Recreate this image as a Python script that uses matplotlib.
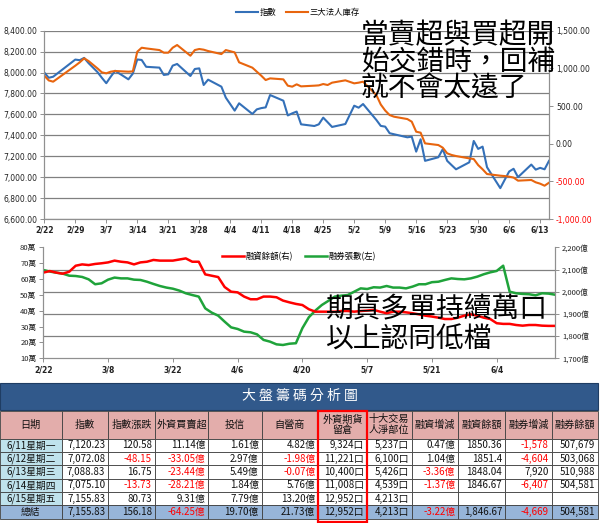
import numpy as np
import pandas as pd
import matplotlib
matplotlib.use('Agg')
import matplotlib.pyplot as plt
from matplotlib.patches import Rectangle

plt.rcParams['font.family'] = ['DejaVu Sans', 'Noto Sans CJK TC']
CJK = ['Noto Sans CJK TC', 'DejaVu Sans']

# trading days (TWSE 2012): weekdays minus holidays, plus the 3/3 make-up Saturday
holidays = ['2012-02-27', '2012-02-28', '2012-04-04', '2012-05-01']
days = pd.bdate_range('2012-02-22', '2012-06-15')
days = days.drop(pd.to_datetime(holidays)).union(pd.to_datetime(['2012-03-03']))

# --- top chart: 指數 (left) / 三大法人庫存 (right)
index_vals = [8000, 7950, 7960, 8124, 8118, 8140, 8090, 8005, 7950, 7898,
              7960, 8017, 7935, 7990, 8125, 8120, 8055, 8047, 7977, 7983,
              8066, 8082, 7967, 8034, 8040, 7881, 7932, 7865, 7760, 7636,
              7706, 7604, 7648, 7660, 7667, 7785, 7731, 7590, 7610, 7627,
              7505, 7489, 7505, 7569, 7525, 7480, 7508, 7683, 7664, 7699,
              7547, 7490, 7483, 7420, 7410, 7381, 7387, 7244, 7362, 7156,
              7190, 7267, 7156, 7115, 7075, 7142, 7346, 7270, 7292, 7095,
              6895, 6975, 7054, 7080, 7000, 7120.23, 7072.08, 7088.83, 7075.10, 7155.83]
inst_vals = [903, 840, 823, 1035, 1080, 1133, 1097, 1000, 947, 934,
             956, 965, 956, 960, 1221, 1274, 1265, 1243, 1208, 1208,
             1274, 1310, 1168, 1243, 1257, 1248, 1230, 1190, 1243, 1212,
             1080, 1009, 956, 903, 845, 867, 854, 770, 757, 788,
             761, 770, 774, 792, 779, 810, 841, 801, 810, 823,
             646, 520, 440, 380, 358, 327, 292, 159, 146, 4,
             -18, -53, -128, -150, -164, -195, -204, -284, -340, -403,
             -425, -430, -438, -450, -491, -482, -513, -531, -558, -518]

# --- bottom chart: 融資餘額 (right, 億) / 融券張數 (left, 萬)
margin_vals = [2086, 2093, 2086, 2081, 2090, 2117, 2123, 2120, 2125, 2128,
               2132, 2140, 2135, 2132, 2123, 2132, 2135, 2143, 2140, 2140,
               2140, 2145, 2150, 2135, 2135, 2078, 2072, 2066, 2021, 2000,
               1997, 1978, 1966, 1966, 1978, 1978, 1975, 1960, 1952, 1945,
               1940, 1921, 1910, 1910, 1910, 1910, 1913, 1913, 1910, 1913,
               1915, 1918, 1910, 1903, 1910, 1910, 1907, 1903, 1898, 1892,
               1888, 1883, 1877, 1877, 1883, 1892, 1898, 1892, 1883, 1877,
               1858, 1855, 1855, 1850, 1847, 1850, 1850, 1847, 1846, 1846]
short_vals = [65.7, 64.7, 64.0, 63.4, 62.1, 61.9, 61.3, 59.8, 56.7, 57.3,
              59.6, 60.9, 60.4, 60.4, 59.6, 59.4, 58.3, 56.9, 55.6, 54.6,
              53.9, 52.7, 51.0, 49.9, 48.9, 41.5, 38.8, 36.9, 33.1, 29.5,
              28.5, 26.8, 26.4, 25.1, 21.6, 20.5, 18.8, 18.4, 19.2, 19.5,
              29.0, 35.9, 40.1, 43.6, 46.2, 48.9, 49.5, 49.9, 52.0, 54.1,
              53.7, 54.8, 54.6, 55.6, 54.6, 54.6, 54.1, 55.2, 56.7, 56.7,
              58.0, 58.3, 59.4, 60.4, 60.0, 59.8, 60.4, 61.5, 63.0, 64.2,
              65.1, 68.4, 52.0, 51.0, 50.6, 50.4, 49.7, 51.0, 50.8, 50.1]

# --- table
col_names = ['日期', '指數', '指數漲跌', '外資買賣超', '投信', '自營商', '外資期貨\n留倉',
             '十大交易\n人淨部位', '融資增減', '融資餘額', '融券增減', '融券餘額']
table_rows = [
    ['6/11星期一', '7,120.23', '120.58', '11.14億', '1.61億', '4.82億', '9,324口', '5,237口', '0.47億', '1850.36', '-1,578', '507,679'],
    ['6/12星期二', '7,072.08', '-48.15', '-33.05億', '2.97億', '-1.98億', '11,221口', '6,100口', '1.04億', '1851.4', '-4,604', '503,068'],
    ['6/13星期三', '7,088.83', '16.75', '-23.44億', '5.49億', '-0.07億', '10,400口', '5,426口', '-3.36億', '1848.04', '7,920', '510,988'],
    ['6/14星期四', '7,075.10', '-13.73', '-28.21億', '1.84億', '5.76億', '11,008口', '4,539口', '-1.37億', '1846.67', '-6,407', '504,581'],
    ['6/15星期五', '7,155.83', '80.73', '9.31億', '7.79億', '13.20億', '12,952口', '4,213口', '', '', '', ''],
]
total_row = ['總結', '7,155.83', '156.18', '-64.25億', '19.70億', '21.73億', '12,952口', '4,213口', '-3.22億', '1,846.67', '-4,669', '504,581']

W, H = 600, 523
fig = plt.figure(figsize=(6, 5.23), dpi=100)
fig.patch.set_facecolor('white')

def box(l, t, r, b):
    return [l / W, 1 - b / H, (r - l) / W, (b - t) / H]

GRID = '#808080'
TICK_FS = 5.5

def style(ax):
    for s in ax.spines.values():
        s.set_color('#909090')
        s.set_linewidth(0.8)
    ax.tick_params(length=3, width=0.7, color='#909090', labelsize=TICK_FS,
                   labelcolor='#222222', pad=2)

# ================= top chart
ax1 = fig.add_axes(box(44.3, 30.7, 549, 219))
style(ax1)
ax1.spines['top'].set_visible(False)
l1, = ax1.plot(days, index_vals, color='#3470b8', lw=1.5, label='指數')
ax1.set_ylim(6600, 8400)
yt = np.arange(6600, 8401, 200)
ax1.set_yticks(yt)
ax1.set_yticklabels([f'{v:,.2f}' for v in yt])
ax1.grid(axis='y', color=GRID, lw=0.9)
ax1.set_axisbelow(True)
ax1.set_xlim(days[0], days[-1])
xt = pd.date_range('2012-02-22', '2012-06-13', freq='7D')
ax1.set_xticks(xt)
ax1.set_xticklabels([f'{d.month}/{d.day}' for d in xt], fontweight='bold')

ax1r = ax1.twinx()
style(ax1r)
ax1r.spines['top'].set_visible(False)
l2, = ax1r.plot(days, inst_vals, color='#e8650e', lw=1.5, label='三大法人庫存')
ax1r.set_ylim(-1000, 1500)
rt = np.arange(-1000, 1501, 500)
ax1r.set_yticks(rt)
ax1r.set_yticklabels([f'{v:,.2f}' for v in rt])
for lab, v in zip(ax1r.get_yticklabels(), rt):
    lab.set_color('#ff0000' if v < 0 else '#222222')

fig.legend(handles=[l1, l2], loc='center', bbox_to_anchor=(298 / W, 1 - 12 / H),
           ncol=2, frameon=False, prop={'family': CJK, 'size': 6},
           handlelength=2.6, handletextpad=0.2, columnspacing=1.2)

note1 = ['當賣超與買超開', '始交錯時，回補', '就不會太遠了']
for i, line in enumerate(note1):
    fig.text(361 / W, 1 - (35 + 27 * i) / H, line, family=CJK, fontsize=20,
             va='center', ha='left', color='black')

# ================= bottom chart
x = np.arange(len(days))
ax2 = fig.add_axes(box(43.3, 247.3, 555, 358.3))
style(ax2)
ax2.spines['top'].set_visible(False)
g, = ax2.plot(x, short_vals, color='#1fa33a', lw=1.8, label='融券張數(左)')
ax2.set_ylim(10, 80)
lt = np.arange(10, 81, 10)
ax2.set_yticks(lt)
ax2.set_yticklabels([f'{v}萬' for v in lt])
ax2.set_yticks(np.linspace(10, 80, 6), minor=True)
ax2.tick_params(which='minor', length=0)
ax2.grid(which='minor', axis='y', color=GRID, lw=0.9)
ax2.set_axisbelow(True)
ax2.set_xlim(0, len(days) - 1)
bt = np.arange(0, len(days), 10)
ax2.set_xticks(bt)
ax2.set_xticklabels([f'{days[i].month}/{days[i].day}' for i in bt], fontweight='bold')

ax2r = ax2.twinx()
style(ax2r)
ax2r.spines['top'].set_visible(False)
r, = ax2r.plot(x, margin_vals, color='#ff0000', lw=1.8, label='融資餘額(右)')
ax2r.set_ylim(1700, 2200)
mt = np.arange(1700, 2201, 100)
ax2r.set_yticks(mt)
ax2r.set_yticklabels([f'{v:,}億' for v in mt])
for lab in ax2.get_yticklabels() + ax2r.get_yticklabels():
    lab.set_family(CJK)
    lab.set_fontsize(5.5)

ax2r.legend(handles=[r, g], loc='center', bbox_to_anchor=(0.5, 0.915),
            ncol=2, frameon=False, prop={'family': CJK, 'size': 6},
            handlelength=2.6, handletextpad=0.2, columnspacing=1.5)

note2 = ['期貨多單持續萬口', '以上認同低檔']
for i, line in enumerate(note2):
    fig.text(326 / W, 1 - (309 + 31 * i) / H, line, family=CJK, fontsize=20,
             va='center', ha='left', color='black')

# ================= table
tab = fig.add_axes([0, 0, 1, 143 / H])
tab.set_xlim(0, W)
tab.set_ylim(H, 380)
tab.axis('off')

cx = [0, 61.7, 108.3, 155, 208.3, 261.7, 318.3, 366.7, 411.7, 458.3, 505, 551.7, 598.3]
title_top, title_bot = 383, 409.5
head_top, head_bot = 410.5, 438.7
row_h = 13.35
edge = '#404040'

tab.add_patch(Rectangle((0, title_top), cx[-1], title_bot - title_top,
                        facecolor='#31598b', edgecolor='#1f3d63', lw=0.8))
tab.text(300, (title_top + title_bot) / 2, '大 盤 籌 碼 分 析 圖', family=CJK,
         fontsize=10, color='white', ha='center', va='center')

for j, name in enumerate(col_names):
    tab.add_patch(Rectangle((cx[j], head_top), cx[j + 1] - cx[j], head_bot - head_top,
                            facecolor='#e3adab', edgecolor=edge, lw=0.6))
    tab.text((cx[j] + cx[j + 1]) / 2, (head_top + head_bot) / 2, name, family=CJK,
             fontsize=7.3, ha='center', va='center', linespacing=1.05, color='#111111')

all_rows = table_rows + [total_row]
for i, row in enumerate(all_rows):
    top = head_bot + i * row_h
    total = i == len(all_rows) - 1
    for j, val in enumerate(row):
        if total:
            fc = '#97b5d9'
        elif j == 0:
            fc = '#bfe2ec'
        else:
            fc = 'white'
        tab.add_patch(Rectangle((cx[j], top), cx[j + 1] - cx[j], row_h,
                                facecolor=fc, edgecolor=edge, lw=0.6))
        color = '#ff0000' if val.startswith('-') else '#111111'
        if j == 0:
            tab.text((cx[j] + cx[j + 1]) / 2, top + row_h / 2, val, family=CJK,
                     fontsize=7, ha='center', va='center', color=color)
        else:
            tab.text(cx[j + 1] - 3, top + row_h / 2, val, family=CJK,
                     fontsize=7, ha='right', va='center', color=color)

tab.add_patch(Rectangle((cx[6], head_top), cx[7] - cx[6], H - 1.5 - head_top,
                        facecolor='none', edgecolor='#ff0000', lw=1.6, zorder=5))

fig.savefig('out.png', dpi=100)
